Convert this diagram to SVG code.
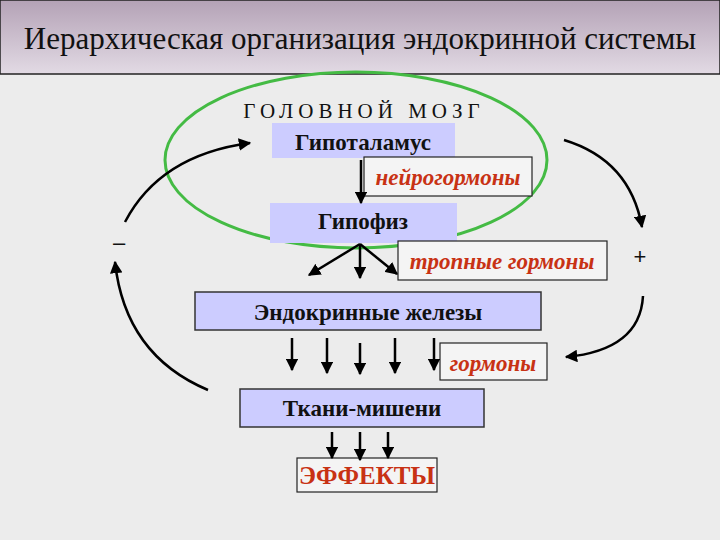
<svg xmlns="http://www.w3.org/2000/svg" width="720" height="540" viewBox="0 0 720 540">
<defs>
<linearGradient id="tg" x1="0" y1="0" x2="0" y2="1"><stop offset="0" stop-color="#b4a2b6"/><stop offset="1" stop-color="#e2dae4"/></linearGradient>
<marker id="ah" viewBox="0 0 10 10" refX="9" refY="5" markerWidth="5" markerHeight="5" orient="auto"><path d="M0,0 L10,5 L0,10 z" fill="#000"/></marker>
<style>
.box{fill:#ccccff}
.bb{fill:#ccccff;stroke:#333;stroke-width:1.5}
.lb{fill:#f4f4f4;stroke:#222;stroke-width:1.2}
.t{font-family:"Liberation Serif","Times New Roman","DejaVu Serif",serif;font-weight:bold;font-size:23px;fill:#111;text-anchor:middle}
.r{font-family:"Liberation Serif","Times New Roman","DejaVu Serif",serif;font-weight:bold;font-style:italic;font-size:23px;fill:#c83214;text-anchor:middle}
.c path,.c line{stroke:#000;stroke-width:2.5;fill:none;marker-end:url(#ah)}
</style>
</defs>
<rect width="720" height="540" fill="#ececec"/>
<g id="title"><rect x="0" y="0" width="720" height="74" fill="url(#tg)" stroke="#222" stroke-width="1.5"/>
<text x="360" y="49" style="font-family:'Liberation Serif','DejaVu Serif',serif;font-size:31px" text-anchor="middle" fill="#111">Иерархическая организация эндокринной системы</text></g>
<g id="brain"><ellipse cx="356" cy="160" rx="191" ry="88" fill="none" stroke="#44bb44" stroke-width="3"/>
<text x="364" y="118" style="font-family:'Liberation Serif','DejaVu Serif',serif;font-size:21px;letter-spacing:5px" text-anchor="middle" fill="#111">ГОЛОВНОЙ МОЗГ</text></g>
<g id="hypothalamus"><rect class="box" x="272" y="123" width="183" height="35"/><text class="t" x="363" y="150">Гипоталамус</text></g>
<g id="neuro"><rect class="lb" x="364" y="157" width="168" height="39"/><text class="r" x="448" y="185">нейрогормоны</text></g>
<g id="hypophysis"><rect class="box" x="270" y="203" width="187" height="40"/><text class="t" x="363" y="229">Гипофиз</text></g>
<g id="tropic"><rect class="lb" x="398" y="241" width="209" height="39"/><text class="r" x="502" y="269">тропные гормоны</text></g>
<g id="glands"><rect class="bb" x="195" y="292" width="346" height="38"/><text class="t" x="368" y="320">Эндокринные железы</text></g>
<g id="hormones"><rect class="lb" x="440" y="343" width="107" height="37"/><text class="r" x="493" y="371">гормоны</text></g>
<g id="targets"><rect class="bb" x="240" y="389" width="244" height="38"/><text class="t" x="362" y="416">Ткани-мишени</text></g>
<g id="effects"><rect class="lb" x="297" y="458" width="140" height="34"/><text class="r" x="367" y="484" style="font-style:normal;font-size:25px">ЭФФЕКТЫ</text></g>
<g id="signs" font-family="Liberation Sans,sans-serif" font-size="22" fill="#111" text-anchor="middle"><text x="119" y="250">–</text><text x="640" y="264">+</text></g>
<g class="c" id="connectors">
<line x1="361" y1="160" x2="361" y2="203"/>
<line x1="360" y1="244" x2="309" y2="275"/>
<line x1="360" y1="244" x2="360" y2="278"/>
<line x1="360" y1="244" x2="397" y2="274"/>
<line x1="292" y1="338" x2="292" y2="370"/>
<line x1="327" y1="338" x2="327" y2="373"/>
<line x1="360" y1="343" x2="360" y2="374"/>
<line x1="395" y1="338" x2="395" y2="373"/>
<line x1="434" y1="338" x2="434" y2="370"/>
<line x1="332" y1="432" x2="332" y2="458"/>
<line x1="360" y1="432" x2="360" y2="460"/>
<line x1="388" y1="432" x2="388" y2="458"/>
<path d="M125,222 Q160,155 250,143"/>
<path d="M208,390 Q125,355 115,262"/>
<path d="M564,140 Q630,160 642,227"/>
<path d="M643,296 Q640,350 566,357"/>
</g>
</svg>
